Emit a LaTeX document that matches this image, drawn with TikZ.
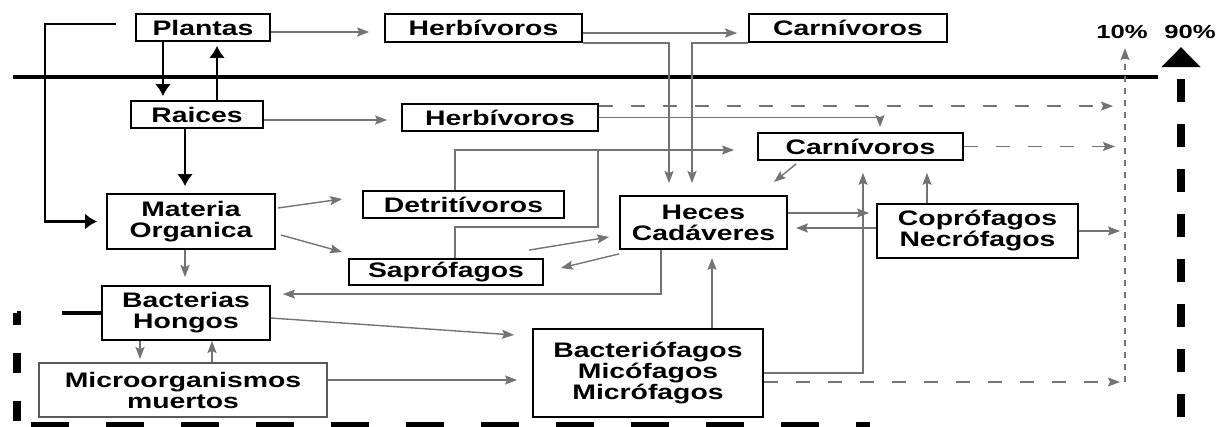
\documentclass[tikz,border=0pt]{standalone}
\usepackage{fontspec}
\usetikzlibrary{arrows.meta}
\newfontfamily\boxfont{Liberation Sans Bold}[FakeStretch=1.35]
\definecolor{lineg}{RGB}{115,115,115}

\begin{document}
\begin{tikzpicture}[
    x=0.5pt, y=-0.5pt,
    box/.style={rectangle, draw=black, line width=0.9pt, inner sep=0pt, align=center, font=\boxfont\fontsize{10.5}{10.5}\selectfont},
    pct/.style={inner sep=0pt, font=\boxfont\fontsize{9.5}{10}\selectfont},
    flow/.style={->, draw=lineg, line width=0.7pt},
    link/.style={draw=lineg, line width=0.7pt},
    dashflow/.style={flow, dash pattern=on 7pt off 9pt},
    heavy/.style={>={Latex[length=6pt,width=8pt]}, ->, line width=1.3pt},
    bigdashv/.style={line width=4pt, dash pattern=on 11.5pt off 11pt},
    bigdashh/.style={line width=2pt, dash pattern=on 19pt off 18.5pt},
    >={Stealth[length=6pt,width=4.5pt,inset=1pt]}
]
    \useasboundingbox (0,0) rectangle (1228,427);

    % above ground
    \node[box, minimum width=67pt, minimum height=13.5pt] (plantas) at (203,27.5) {Plantas};
    \node[box, minimum width=98.5pt, minimum height=14pt] (herbA) at (483.5,28) {Herbívoros};
    \node[box, minimum width=99pt, minimum height=14pt] (carnA) at (848,28) {Carnívoros};

    % soil
    \node[box, minimum width=66pt, minimum height=13.5pt] (raices) at (197,114.5) {Raices};
    \node[box, minimum width=98pt, minimum height=13.5pt] (herbB) at (500,117.5) {Herbívoros};
    \node[box, minimum width=102.5pt, minimum height=13.5pt] (carnB) at (860.5,146.5) {Carnívoros};
    \node[box, minimum width=84pt, minimum height=27.5pt] (materia) at (191,221.5) {Materia\\Organica};
    \node[box, minimum width=100.5pt, minimum height=13.5pt] (detri) at (463.5,204.5) {Detritívoros};
    \node[box, minimum width=97pt, minimum height=13pt] (sapro) at (446,272) {Saprófagos};
    \node[box, minimum width=83.5pt, minimum height=26.5pt] (heces) at (703.5,222.5) {Heces\\Cadáveres};
    \node[box, minimum width=100.5pt, minimum height=27pt] (copro) at (977.5,231) {Coprófagos\\Necrófagos};
    \node[box, minimum width=84pt, minimum height=27pt] (bact) at (186,313) {Bacterias\\Hongos};
    \node[box, draw=black!65, minimum width=144pt, minimum height=27pt] (micro) at (183,390) {Microorganismos\\muertos};
    \node[box, minimum width=115pt, minimum height=44pt] (bfagos) at (648,373) {Bacteriófagos\\Micófagos\\Micrófagos};

    \node[pct] (pctlow) at (1122,32) {10\%};
    \node[pct] (pcthigh) at (1190,32) {90\%};

    \coordinate (tenb) at (1125,382);
    \coordinate (sapjoin) at (598,150);
    \coordinate (topfree) at (116,24);
    \coordinate (bend) at (45,24);
    \coordinate (groundw) at (13,77);
    \coordinate (grounde) at (1158,77);
    \coordinate (rbot) at (1181,427);
    \coordinate (lcorner) at (17,313);
    \coordinate (lbot) at (17,427);
    \coordinate (bl) at (31,427);
    \coordinate (br) at (870,427);

    % ground line and frame
    \draw[line width=2.2pt] (groundw) -- (grounde);
    \draw[bigdashv, dash phase=17.5pt, -{Triangle[length=10pt,width=19pt]}, shorten >=4pt] (rbot) -- (rbot |- pcthigh.south);
    \draw[bigdashh, dash pattern=on 19.5pt off 20.5pt] (bact.west) -- (lcorner);
    \draw[bigdashv, dash pattern=on 10pt off 14pt, dash phase=4pt] (lcorner) -- (lbot);
    \draw[bigdashh, line width=5pt] (bl) -- (br);

    % black arrows
    \draw[heavy, shorten >=4.5pt] (topfree) -- (bend) |- (materia.west);
    \draw[heavy, shorten >=2pt] ([xshift=-20pt]plantas.south) -- ([xshift=-20pt]plantas.south |- raices.north);
    \draw[heavy, shorten >=2pt] ([xshift=10pt]raices.north) -- ([xshift=10pt]raices.north |- plantas.south);
    \draw[heavy, shorten >=3.5pt] ([xshift=-6pt]raices.south) -- ([xshift=-6pt]raices.south |- materia.north);

    % grey arrows
    \draw[flow, shorten >=7.5pt] ([yshift=-2.25pt]plantas.east) -- ([yshift=-2.25pt]plantas.east -| herbA.west);
    \draw[flow, shorten >=7pt] ([yshift=-2.75pt]raices.east) -- ([yshift=-2.75pt]raices.east -| herbB.west);
    \draw[flow, shorten >=5.5pt] ([yshift=-2.5pt]herbA.east) -- ([yshift=-2.5pt]herbA.east -| carnA.west);
    \draw[flow, shorten >=6pt] (herbA.south east) -| ([xshift=-17.25pt]heces.north);
    \draw[flow, shorten >=6pt] (carnA.south west) -| ([xshift=-5.75pt]heces.north);
    \draw[dashflow, shorten >=6pt] ([yshift=-1.5pt]herbB.north east) -- ([yshift=-1.5pt]herbB.north east -| tenb);
    \draw[flow, shorten >=2.5pt] (herbB.east) -| ([xshift=9.75pt]carnB.north);
    \draw[flow, shorten >=11.5pt] ([xshift=-4.25pt]detri.north) |- ([yshift=-1.75pt]carnB.west);
    \draw[link] ([xshift=4.5pt]sapro.north) -- ++(0,-31) -| (sapjoin);
    \draw[flow] ([shift={(1pt,6.75pt)}]materia.east) -- ([shift={(-10pt,2.75pt)}]detri.west);
    \draw[flow] ([shift={(2.5pt,-6.75pt)}]materia.east) -- ([shift={(-3pt,10pt)}]sapro.west);
    \draw[flow, shorten >=4pt] ([xshift=-3pt]materia.south) -- ([xshift=-3pt]materia.south |- bact.north);
    \draw[flow] ([shift={(-7.5pt,4pt)}]sapro.north east) -- ([shift={(-5pt,-7.25pt)}]heces.west);
    \draw[flow] ([yshift=-2pt]heces.south west) -- ([shift={(8.5pt,2pt)}]sapro.east);
    \draw[flow] ([shift={(19.5pt,-1.5pt)}]carnB.south west) -- ([shift={(-7pt,6.5pt)}]heces.north east);
    \draw[flow, shorten >=6pt] ([xshift=-21.25pt]heces.south) |- ([yshift=-4.5pt]bact.north east);
    \draw[flow, shorten >=3.5pt] ([yshift=4.75pt]heces.east) -- ([yshift=4.75pt]heces.east -| copro.west);
    \draw[flow, shorten >=4pt] ([yshift=1.5pt]copro.west) -- ([yshift=1.5pt]copro.west -| heces.east);
    \draw[flow, shorten >=6pt] (bfagos.east) -| ([xshift=1.25pt]carnB.south);
    \draw[flow, shorten >=6pt] ([xshift=-25.25pt]copro.north) -- ([xshift=-25.25pt]copro.north |- carnB.south);
    \draw[flow, shorten >=2.5pt] (copro.east) -- (copro.east -| tenb);
    \draw[dashflow, shorten >=5pt] (carnB.east) -- (carnB.east -| tenb);
    \draw[flow, shorten >=4pt] ([xshift=32pt]bfagos.north) -- ([xshift=32pt]bfagos.north |- heces.south);
    \draw[flow] ([yshift=-2.5pt]bact.east) -- ([shift={(-9pt,19pt)}]bfagos.west);
    \draw[flow, shorten >=7.5pt] ([yshift=5pt]micro.east) -- ([yshift=5pt]micro.east -| bfagos.west);
    \draw[flow, shorten >=1.5pt] ([xshift=-23pt]bact.south) -- ([xshift=-23pt]bact.south |- micro.north);
    \draw[flow] ([xshift=14.5pt]micro.north) -- ([xshift=14.5pt]micro.north |- bact.south);
    \draw[dashflow, shorten >=2.5pt] ([yshift=-4.5pt]bfagos.east) -- (tenb);
    \draw[flow, dash pattern=on 3pt off 3pt, shorten >=4.5pt] (tenb) -- (tenb |- pctlow.south);
\end{tikzpicture}
\end{document}
